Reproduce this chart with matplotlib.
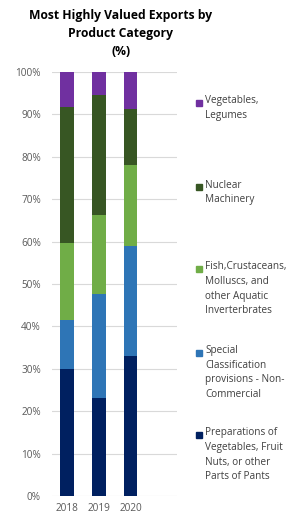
import numpy as np
import matplotlib.pyplot as plt
from matplotlib.patches import Rectangle

years = ['2018', '2019', '2020']
categories = ['Preparations of\nVegetables, Fruit\nNuts, or other\nParts of Pants',
              'Special\nClassification\nprovisions - Non-\nCommercial',
              'Fish,Crustaceans,\nMolluscs, and\nother Aquatic\nInverterbrates',
              'Nuclear\nMachinery',
              'Vegetables,\nLegumes']
prep = [30.0, 23.0, 33.1]
special = [11.5, 24.6, 25.9]
fish = [18.2, 18.7, 19.0]
nuclear = [32.0, 28.3, 13.2]
veg = [8.3, 5.4, 8.8]
colors = ['#002060', '#2E75B6', '#70AD47', '#375623', '#7030A0']

plt.rcParams['font.family'] = ['Open Sans', 'DejaVu Sans']

fig = plt.figure(figsize=(2.86, 5.15), dpi=100)
ax = fig.add_axes([52/286, 19/515, 125/286, 424/515])

x = np.arange(len(years))
bottom = np.zeros(len(years))
for vals, c in zip([prep, special, fish, nuclear, veg], colors):
    ax.bar(x, vals, 0.42, bottom=bottom, color=c, zorder=3)
    bottom += np.array(vals)

ax.set_xlim(-0.47, 3.45)
ax.set_ylim(0, 100)
ax.set_yticks(np.arange(0, 101, 10))
ax.set_yticklabels([f'{v}%' for v in range(0, 101, 10)])
ax.set_xticks(x)
ax.set_xticklabels(years)
ax.tick_params(axis='both', length=0, labelsize=7.2, labelcolor='#595959')
ax.tick_params(axis='y', pad=8)
ax.tick_params(axis='x', pad=5)
ax.grid(axis='y', color='#D9D9D9', linewidth=0.8, zorder=0)
for s in ax.spines.values():
    s.set_visible(False)

fig.text(121/286, 1 - 9/515, 'Most Highly Valued Exports by\nProduct Category\n(%)',
         ha='center', va='top', fontsize=8.7, fontweight='bold', linespacing=1.5,
         color='black')

# legend, top entry first
centers = [435, 352.5, 269, 187, 103]
for lab, c, yc in zip(categories, colors, centers):
    fig.patches.append(Rectangle((196/286, 1 - (yc + 3)/515), 6/286, 6/515,
                                 transform=fig.transFigure, color=c))
    fig.text(205/286, 1 - (yc - 7.5)/515, lab, ha='left', va='top', fontsize=7.2,
             color='#404040', linespacing=1.45)

fig.savefig('out.png', dpi=100)
